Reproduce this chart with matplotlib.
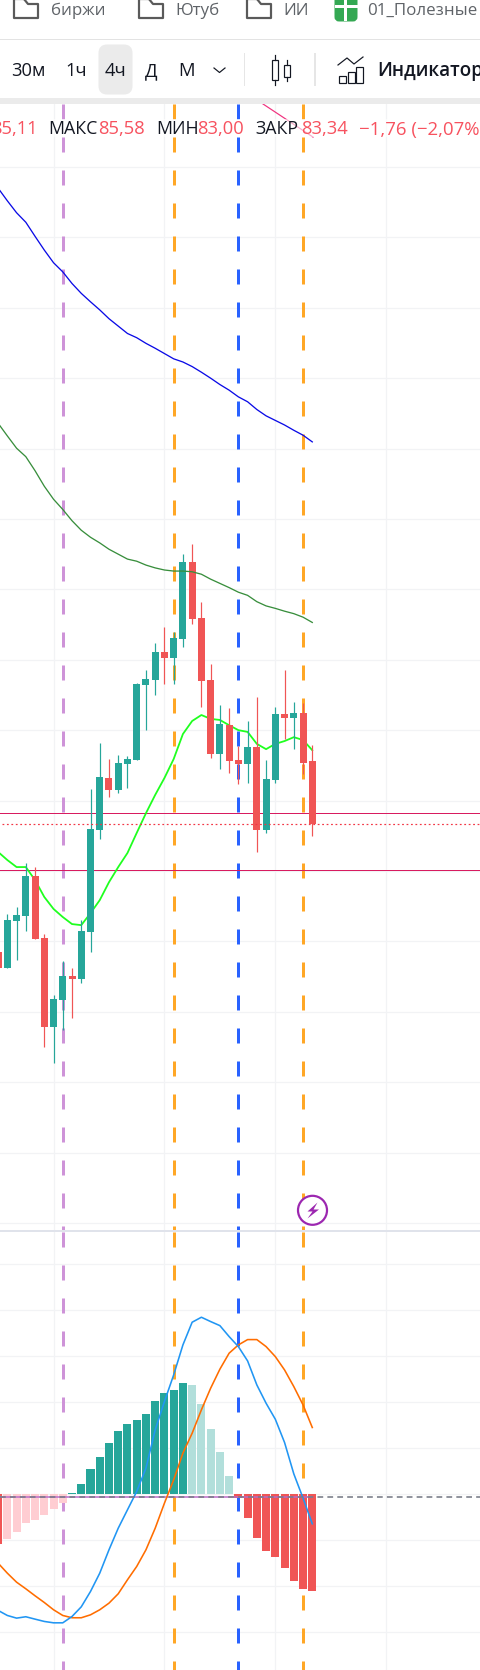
import matplotlib
matplotlib.use("Agg")
import matplotlib.pyplot as plt
from matplotlib.patches import Circle, FancyBboxPatch, Polygon, Rectangle

W, H = 480, 1670
BODY_FONT = ["Open Sans", "DejaVu Sans"]

# 4h candles, price values
opens = [79.70, 79.24, 80.58, 80.72, 81.86, 80.09, 77.57, 78.33, 79.01, 78.93, 80.26, 83.16,
         84.64, 84.30, 85.04, 85.15, 87.28, 87.42, 88.22, 88.05, 88.59, 90.78, 89.18, 87.42,
         85.32, 86.14, 85.15, 85.04, 85.52, 83.16, 84.58, 86.46, 86.34, 86.49, 85.11]
closes = [79.24, 80.61, 80.75, 81.86, 80.07, 77.57, 78.36, 79.01, 78.93, 80.29, 83.19, 84.67,
          84.30, 85.07, 85.18, 87.31, 87.45, 88.22, 88.05, 88.62, 90.78, 89.16, 87.39, 85.32,
          86.17, 85.12, 85.04, 85.52, 83.16, 84.61, 86.46, 86.34, 86.49, 85.07, 83.34]
highs = [79.70, 80.78, 80.97, 82.22, 82.11, 80.21, 78.47, 79.44, 79.24, 80.61, 84.33, 85.63,
         85.18, 85.29, 85.26, 87.34, 87.71, 88.47, 88.93, 88.79, 91.00, 91.29, 89.64, 87.88,
         86.71, 86.63, 85.55, 86.26, 86.94, 85.15, 86.66, 87.71, 86.80, 86.77, 85.58]
lows = [79.24, 79.24, 79.47, 80.29, 80.07, 77.00, 76.54, 77.48, 77.82, 78.82, 79.70, 82.91,
        84.10, 84.21, 84.36, 85.15, 86.00, 87.00, 87.31, 87.31, 88.36, 89.01, 86.66, 85.21,
        84.89, 84.78, 84.47, 84.50, 82.54, 83.08, 84.50, 85.75, 85.46, 84.75, 83.00]

ma_fast = [82.54, 82.31, 82.11, 82.11, 81.74, 81.26, 80.92, 80.69, 80.49, 80.46, 80.80, 81.17,
           81.68, 82.11, 82.51, 83.08, 83.64, 84.16, 84.64, 85.18, 85.89, 86.26, 86.43, 86.32,
           86.29, 86.14, 86.00, 85.95, 85.61, 85.46, 85.61, 85.69, 85.80, 85.72, 85.43]
ma_mid = [94.72, 94.36, 94.01, 93.77, 93.37, 92.93, 92.56, 92.27, 91.95, 91.68, 91.48, 91.32,
          91.14, 91.00, 90.86, 90.80, 90.69, 90.61, 90.55, 90.52, 90.52, 90.50, 90.43, 90.29,
          90.17, 90.05, 89.92, 89.83, 89.65, 89.53, 89.46, 89.38, 89.31, 89.21, 89.06]
ma_slow = [101.40, 101.04, 100.70, 100.43, 100.03, 99.64, 99.28, 99.02, 98.69, 98.41, 98.17, 97.94,
           97.69, 97.48, 97.27, 97.15, 96.99, 96.85, 96.70, 96.55, 96.46, 96.33, 96.17, 96.00,
           95.82, 95.66, 95.47, 95.33, 95.11, 94.93, 94.80, 94.67, 94.52, 94.38, 94.19]

hist = [-0.543, -0.489, -0.413, -0.315, -0.283, -0.228, -0.163, -0.098, 0.015, 0.112, 0.275, 0.406,
        0.558, 0.688, 0.764, 0.808, 0.873, 1.014, 1.101, 1.134, 1.210, 1.188, 0.982, 0.710,
        0.460, 0.199, -0.040, -0.261, -0.478, -0.620, -0.685, -0.804, -0.946, -1.033, -1.054]
macd = [-1.264, -1.319, -1.348, -1.333, -1.359, -1.384, -1.399, -1.399, -1.330, -1.225, -1.058, -0.859,
        -0.605, -0.370, -0.170, 0.029, 0.283, 0.699, 1.007, 1.297, 1.623, 1.870, 1.924, 1.877,
        1.833, 1.714, 1.605, 1.449, 1.188, 0.989, 0.815, 0.562, 0.221, -0.043, -0.322]
signal = [-0.750, -0.859, -0.957, -1.029, -1.105, -1.178, -1.257, -1.319, -1.344, -1.344, -1.312, -1.257,
          -1.185, -1.083, -0.931, -0.786, -0.605, -0.370, -0.098, 0.156, 0.446, 0.663, 0.917, 1.152,
          1.359, 1.533, 1.623, 1.681, 1.681, 1.605, 1.496, 1.351, 1.170, 0.971, 0.725]

levels = [83.64, 82.02]
last_close = 83.34
ray_t = [28.67, 34.08]
ray_price = [103.79, 102.85]
macd_hline = -0.026

marker_bars = [7, 19, 26, 33]
marker_colors = ["#ce93d8", "#ffa726", "#2962ff", "#ffa726"]
price_ticks = list(range(72, 104, 2))
macd_ticks = [2.5, 2.0, 1.5, 1.0, 0.5, 0.0, -0.5, -1.0, -1.5]
time_ticks = [6, 18, 30, 42]

bookmarks = ["биржи", "Ютуб", "ИИ", "01_Полезные"]
intervals = ["30м", "1ч", "4ч", "Д", "М"]
legend_labels = ["МАКС", "МИН", "ЗАКР"]
legend_values = ["85,58", "83,00", "83,34"]

UP, DOWN = "#26a69a", "#f05555"
UP_LIGHT, DOWN_LIGHT = "#b2dfdb", "#ffcdd2"
GRID = "#f2f3f5"
PX = 0.72  # 1 px in points at dpi 100

fig = plt.figure(figsize=(W / 100, H / 100), dpi=100, facecolor="white")


def panel(y_top, y_bottom, ymax, ymin):
    ax = fig.add_axes([0, 1 - y_bottom / H, 1, (y_bottom - y_top) / H])
    ax.set_xlim(0.206, 52.15)
    ax.set_ylim(ymin, ymax)
    for s in ax.spines.values():
        s.set_visible(False)
    ax.tick_params(length=0, labelbottom=False, labelleft=False)
    ax.set_xticks(time_ticks)
    ax.grid(True, color=GRID, lw=1.2 * PX)
    ax.set_axisbelow(True)
    # vertical markers, drawn from the top so that the dashes start there
    for bar, col in zip(marker_bars, marker_colors):
        ax.plot([bar, bar], [ymax, ymin], color=col, lw=3 * PX, linestyle=(0, (5, 6)),
                dash_capstyle="butt", zorder=1)
    return ax


# price pane
ax = panel(104, 1231, 103.79, 71.77)
ax.set_yticks(price_ticks)
bars = range(len(opens))
colors = [UP if c >= o else DOWN for o, c in zip(opens, closes)]
ax.plot(ray_t, ray_price, color="#f0327f", lw=1.2 * PX, zorder=2, clip_on=False)
for lev in levels:
    ax.axhline(lev, color="#d81b60", lw=1.0 * PX, zorder=2)
ax.plot(bars, ma_fast, color="#1fff1f", lw=1.8 * PX, zorder=3)
ax.vlines(bars, lows, highs, colors=colors, lw=1.2 * PX, zorder=4)
ax.bar(bars, [abs(c - o) for o, c in zip(opens, closes)], bottom=[min(o, c) for o, c in zip(opens, closes)],
       width=0.76, color=colors, linewidth=0, zorder=5)
ax.plot(bars, ma_mid, color="#388e3c", lw=1.3 * PX, zorder=6)
ax.plot(bars, ma_slow, color="#0a0ae6", lw=1.3 * PX, zorder=6)
ax.axhline(last_close, xmin=2 / W, color="#f23645", lw=1.2 * PX, linestyle=(0, (1.5, 2.2)), zorder=6)

# macd pane
ax2 = panel(1232, H, 2.851, -1.912)
ax2.set_yticks(macd_ticks)
hist_colors = []
for i, v in enumerate(hist):
    prev = hist[i - 1] if i else 0
    if v >= 0:
        hist_colors.append(UP if v >= prev else UP_LIGHT)
    else:
        hist_colors.append(DOWN if v < prev else DOWN_LIGHT)
ax2.bar(bars, hist, width=0.87, color=hist_colors, linewidth=0, zorder=3)
ax2.plot([0, 34], [macd_hline, macd_hline], color="#ba68c8", lw=1.5 * PX, zorder=4)
ax2.plot(bars, signal, color="#ff6d00", lw=1.6 * PX, zorder=5)
ax2.plot(bars, macd, color="#2196f3", lw=1.6 * PX, zorder=5)
ax2.axhline(macd_hline, color="#787b86", lw=1.6 * PX, linestyle=(0, (3.6, 2.6)), zorder=6)

# browser bar, toolbar and legend in pixel coordinates
ui = fig.add_axes([0, 0, 1, 1], zorder=10)
ui.set_xlim(0, W)
ui.set_ylim(H, 0)
ui.axis("off")
ui.add_patch(Rectangle((0, 0), W, 98, fc="white", ec="none"))
ui.add_patch(Rectangle((0, 98), W, 6, fc="#ebebeb", ec="none"))
ui.add_patch(Rectangle((0, 39), W, 1, fc="#e3e3e3", ec="none"))
ui.add_patch(Rectangle((0, 1230), W, 2.4, fc="#e0e3eb", ec="none"))
ui.add_patch(Rectangle((0, 119), W, 18, fc="white", ec="none", alpha=0.6))

for x0 in [14, 139, 247]:
    ui.plot([x0 + 10, x0 + 14, x0 + 24, x0 + 24, x0, x0, x0 + 10],
            [-1, 4, 4, 18, 18, -1, -1], color="#5a5a5a", lw=2.2 * PX, solid_joinstyle="round")
ui.add_patch(FancyBboxPatch((336, -4), 20, 24, boxstyle="round,pad=0,rounding_size=3",
                            fc="#34a853", ec="#34a853", lw=3 * PX))
ui.add_patch(Rectangle((343.5, 0), 3, 21, fc="white", ec="none"))
ui.add_patch(Rectangle((334.5, 5), 23, 3, fc="white", ec="none"))
for label, x in zip(bookmarks, [51, 175, 283, 367]):
    ui.text(x, 11, label, family=BODY_FONT, fontsize=12.2, color="#5f6368", va="center", ha="left")

ui.add_patch(FancyBboxPatch((100, 46), 31, 47, boxstyle="round,pad=0,rounding_size=7",
                            fc="#ebebeb", ec="#ebebeb", lw=3 * PX))
for label, x in zip(intervals, [11, 65, 105, 145, 178]):
    ui.text(x, 71, label, family=BODY_FONT, fontsize=13.2, color="#131722", va="center", ha="left")
ui.plot([214, 219.5, 225], [68, 72.5, 68], color="#131722", lw=1.2 * PX)
ui.add_patch(Rectangle((244, 53), 1, 33, fc="#e6e6e6", ec="none"))
ui.add_patch(Rectangle((314, 53), 2, 33, fc="#e6e6e6", ec="none"))

# candle icon
ui.add_patch(Rectangle((272, 60), 6, 20, fc="white", ec="#131722", lw=1.2 * PX))
ui.plot([275, 275], [55, 60], color="#131722", lw=1.2 * PX)
ui.plot([275, 275], [80, 85], color="#131722", lw=1.2 * PX)
ui.add_patch(Rectangle((284, 64.5), 6, 12.5, fc="white", ec="#131722", lw=1.2 * PX))
ui.plot([287, 287], [60, 64.5], color="#131722", lw=1.2 * PX)
ui.plot([287, 287], [77, 81], color="#131722", lw=1.2 * PX)
# indicators icon
for x0, top in [(339, 76), (347.5, 72), (356, 67)]:
    ui.add_patch(Rectangle((x0, top), 7, 82.5 - top, fc="white", ec="#131722", lw=1.2 * PX))
ui.plot([338, 347, 354, 363], [65, 58, 64, 57], color="#131722", lw=1.2 * PX)
ui.text(377, 71, "Индикатор", family=BODY_FONT, fontsize=13.6, fontweight="semibold",
        color="#131722", va="center", ha="left", clip_on=True)

VALUE_RED = "#f7525f"
ui.text(38, 129.5, "85,11", family=BODY_FONT, fontsize=13.2, color=VALUE_RED, va="center", ha="right")
for label, value, xl, xv in zip(legend_labels, legend_values, [48, 156, 255], [98, 197, 301]):
    ui.text(xl, 129.5, label, family=BODY_FONT, fontsize=12.8, color="#131722", va="center", ha="left")
    ui.text(xv, 129.5, value, family=BODY_FONT, fontsize=13.2, color=VALUE_RED, va="center", ha="left")
ui.text(359, 129.5, "\u22121,76 (\u22122,07%)", family=BODY_FONT, fontsize=13.4, color=VALUE_RED,
        va="center", ha="left", clip_on=True)

# lightning badge
ui.add_patch(Circle((312.5, 1210.3), 14.5, fc="white", ec="#9c27b0", lw=2.2 * PX))
ui.add_patch(Polygon([(317.5, 1202.5), (307.5, 1211.5), (312.5, 1211.5), (307.5, 1218.5),
                      (319, 1209.5), (313.5, 1209.5)], closed=True, fc="#9c27b0", ec="none"))

fig.savefig("out.png", dpi=100, facecolor="white")
